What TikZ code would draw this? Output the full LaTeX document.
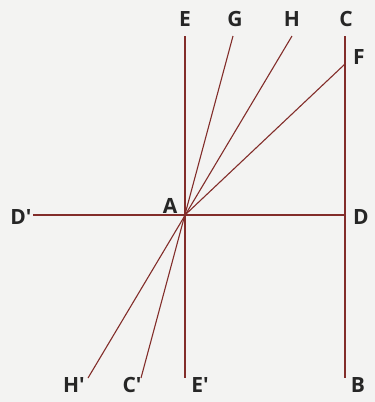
\documentclass[tikz,border=0pt]{standalone}
\usepackage{fontspec}
\setmainfont{Open Sans}
\usetikzlibrary{positioning}
\definecolor{rayBrown}{RGB}{130,45,42}
\definecolor{paperGray}{RGB}{243,243,242}

\begin{document}
\begin{tikzpicture}[
        x=1pt, y=-1pt,
        rayLine/.style={
            draw=rayBrown, line width=1.1pt
        },
        letterLabel/.style={
            inner sep=0pt, font=\fontsize{21}{21}\selectfont\bfseries, text=black!85
        }
    ]
        % Background
        \fill[paperGray] (0,0) rectangle (375,402);
        \useasboundingbox (0,0) rectangle (375,402);

        % Points
        \coordinate (A) at (185,215);
        \coordinate (E) at (185,36);
        \coordinate (Ep) at (185,378);
        \coordinate (G) at (233,36);
        \coordinate (Cp) at (141,378);
        \coordinate (H) at (292,36);
        \coordinate (Hp) at (88,378);
        \coordinate (C) at (345,36);
        \coordinate (F) at (345,64);
        \coordinate (D) at (345,215);
        \coordinate (B) at (345,378);
        \coordinate (Dp) at (33,215);

        % Labels
        \node (labE) [letterLabel] at (185,19) {E};
        \node (labG) [letterLabel] at (235,19) {G};
        \node (labH) [letterLabel] at (292,19) {H};
        \node (labC) [letterLabel] at (346,19) {C};
        \node (labF) [letterLabel] at (359,57) {F};
        \node (labD) [letterLabel] at (361,217) {D};
        \node (labB) [letterLabel] at (358,385) {B};
        \node (labA) [letterLabel] at (170,206) {A};
        \node (labEp) [letterLabel] at (200,385) {E′};
        \node (labCp) [letterLabel] at (132,385) {C′};
        \node (labHp) [letterLabel] at (74,385) {H′};
        \node (labDp) [letterLabel] at (21,217) {D′};

        % Lines
        \draw [rayLine] (E) -- (Ep);
        \draw [rayLine] (C) -- (B);
        \draw [rayLine] (Dp) -- (D);
        \draw [rayLine] (G) -- (Cp);
        \draw [rayLine] (H) -- (Hp);
        \draw [rayLine] (A) -- (F);
    \end{tikzpicture}
\end{document}
